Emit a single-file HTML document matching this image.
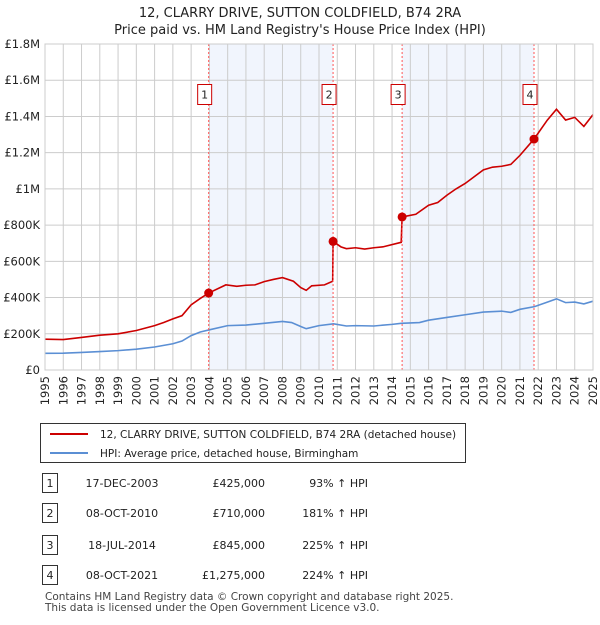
<!DOCTYPE html>
<html><head><meta charset="utf-8"><style>
body{margin:0;background:#fff;font-family:"Liberation Sans","DejaVu Sans",sans-serif;}
svg text{font-family:"DejaVu Sans","Liberation Sans",sans-serif;}
</style></head><body>
<svg id="c" width="600" height="620" viewBox="0 0 600 620" xmlns="http://www.w3.org/2000/svg">
<text x="300" y="17" text-anchor="middle" font-size="13" fill="#222">12, CLARRY DRIVE, SUTTON COLDFIELD, B74 2RA</text>
<text x="300" y="34" text-anchor="middle" font-size="13" fill="#222">Price paid vs. HM Land Registry's House Price Index (HPI)</text>
<g id="plot"></g>
<g>
<rect x="40.5" y="423.5" width="425" height="39" fill="#fff" stroke="#333"/>
<line x1="50" y1="434" x2="88" y2="434" stroke="#cc0000" stroke-width="2"/>
<text x="100" y="438" font-size="10.5" fill="#222">12, CLARRY DRIVE, SUTTON COLDFIELD, B74 2RA (detached house)</text>
<line x1="50" y1="453" x2="88" y2="453" stroke="#5b8fd4" stroke-width="2"/>
<text x="100" y="457" font-size="10.5" fill="#222">HPI: Average price, detached house, Birmingham</text>
</g>
<g id="tbl"></g>
<text x="45" y="600" font-size="10.5" fill="#444">Contains HM Land Registry data © Crown copyright and database right 2025.</text>
<text x="45" y="611" font-size="10.5" fill="#444">This data is licensed under the Open Government Licence v3.0.</text>
</svg>
<script>
const yTicks=[0,200,400,600,800,1000,1200,1400,1600,1800];
const yTickLabels=["£0","£200K","£400K","£600K","£800K","£1M","£1.2M","£1.4M","£1.6M","£1.8M"];
const years=[1995,1996,1997,1998,1999,2000,2001,2002,2003,2004,2005,2006,2007,2008,2009,2010,2011,2012,2013,2014,2015,2016,2017,2018,2019,2020,2021,2022,2023,2024,2025];
const hpiX=[1995,1996,1997,1998,1999,2000,2001,2002,2002.5,2003,2003.5,2004,2005,2006,2007,2008,2008.5,2009,2009.3,2010,2010.8,2011.5,2012,2013,2014,2014.5,2015.5,2016,2017,2018,2019,2020,2020.5,2021,2021.8,2022.5,2023,2023.5,2024,2024.5,2025];
const hpiY=[92,93,97,102,107,115,127,145,160,190,210,222,245,248,258,268,262,240,228,245,255,243,245,243,252,258,262,275,290,305,320,325,318,335,350,375,393,372,375,365,380];
const redX=[1995,1996,1997,1998,1999,2000,2001,2001.5,2002,2002.5,2003,2003.5,2003.96,2004.9,2005.5,2006,2006.5,2007,2007.5,2008,2008.6,2009,2009.3,2009.6,2010.3,2010.75,2010.77,2011.2,2011.5,2012,2012.5,2013,2013.5,2014.5,2014.55,2015.3,2016,2016.5,2017,2017.5,2018,2019,2019.5,2020,2020.5,2021,2021.77,2022.5,2023,2023.5,2024,2024.5,2025];
const redY=[170,168,180,192,200,218,245,262,282,300,360,395,425,470,462,468,470,488,500,510,490,455,440,465,470,490,710,680,670,675,668,675,680,705,845,860,910,925,965,1000,1030,1105,1120,1125,1135,1185,1275,1380,1440,1380,1395,1345,1410];
const saleX=[2003.96,2010.77,2014.55,2021.77];
const saleY=[425,710,845,1275];
const saleDates=["17-DEC-2003","08-OCT-2010","18-JUL-2014","08-OCT-2021"];
const salePrices=["£425,000","£710,000","£845,000","£1,275,000"];
const saleHpi=["93% ↑ HPI","181% ↑ HPI","225% ↑ HPI","224% ↑ HPI"];

const X0=45,X1=593,Y0=370,Y1=44;
const sx=v=>X0+(v-1995)/30*(X1-X0);
const sy=v=>Y0-v/1800*(Y0-Y1);
const NS="http://www.w3.org/2000/svg";
const P=document.getElementById('plot');
function mk(t,a,par){const e=document.createElementNS(NS,t);for(const k in a)e.setAttribute(k,a[k]);(par||P).appendChild(e);return e;}
for(let i=0;i<saleX.length;i+=2){
 const r=mk('rect',{x:sx(saleX[i]),y:Y1,width:sx(saleX[i+1])-sx(saleX[i]),height:Y0-Y1,fill:'#eef3fd',opacity:0.8});
 
 
}
years.forEach(y=>{
 const l=mk('line',{x1:sx(y),x2:sx(y),y1:Y1,y2:Y0,stroke:'#cccccc','stroke-width':1});
 
 
 const t=mk('text',{x:0,y:0,'font-size':11.5,fill:'#222','text-anchor':'end',transform:`translate(${sx(y)+4},${Y0+6}) rotate(-90)`});
 t.textContent=y;
 
 
});
yTicks.forEach((v,i)=>{
 const l=mk('line',{x1:X0,x2:X1,y1:sy(v),y2:sy(v),stroke:'#cccccc','stroke-width':1});
 
 
 const t=mk('text',{x:X0-5,y:sy(v)+4,'font-size':11.5,fill:'#222','text-anchor':'end'});
 t.textContent=yTickLabels[i];
 
 
});
const hp=mk('polyline',{points:hpiX.map((x,i)=>sx(x)+','+sy(hpiY[i])).join(' '),fill:'none',stroke:'#5b8fd4','stroke-width':1.6});


const rp=mk('polyline',{points:redX.map((x,i)=>sx(x)+','+sy(redY[i])).join(' '),fill:'none',stroke:'#cc0000','stroke-width':1.6});


saleX.forEach((x,i)=>{
 const l=mk('line',{x1:sx(x),x2:sx(x),y1:Y1,y2:Y0,stroke:'#ff5555','stroke-width':1,'stroke-dasharray':'2,2'});
 
 
 const c=mk('circle',{cx:sx(x),cy:sy(saleY[i]),r:4.5,fill:'#cc0000'});
 
 
 const b=mk('rect',{x:sx(x)-11,y:84.5,width:14,height:20,fill:'#fff',stroke:'#cc0000'});
 
 
 const t=mk('text',{x:sx(x)-4,y:98.5,'font-size':11,fill:'#222','text-anchor':'middle'});
 t.textContent=i+1;
 
 
});
const ax=mk('rect',{x:X0,y:Y1,width:X1-X0,height:Y0-Y1,fill:'none',stroke:'#cccccc'});


const T=document.getElementById('tbl');
const rowsY=[483,513,545,575];
saleDates.forEach((d,i)=>{
 const y=rowsY[i];
 const b=mk('rect',{x:42.5,y:y-9.5,width:15,height:19,fill:'#fff',stroke:'#333'},T);
 
 
 const n=mk('text',{x:50,y:y+4,'font-size':11,fill:'#222','text-anchor':'middle'},T);n.textContent=i+1;
 
 
 const a=mk('text',{x:122,y:y+4,'font-size':11,fill:'#222','text-anchor':'middle'},T);a.textContent=d;
 
 
 const p=mk('text',{x:265,y:y+4,'font-size':11,fill:'#222','text-anchor':'end'},T);p.textContent=salePrices[i];
 
 
 const h=mk('text',{x:368,y:y+4,'font-size':11,fill:'#222','text-anchor':'end'},T);h.textContent=saleHpi[i];
 
 
});
</script>
</body></html>
